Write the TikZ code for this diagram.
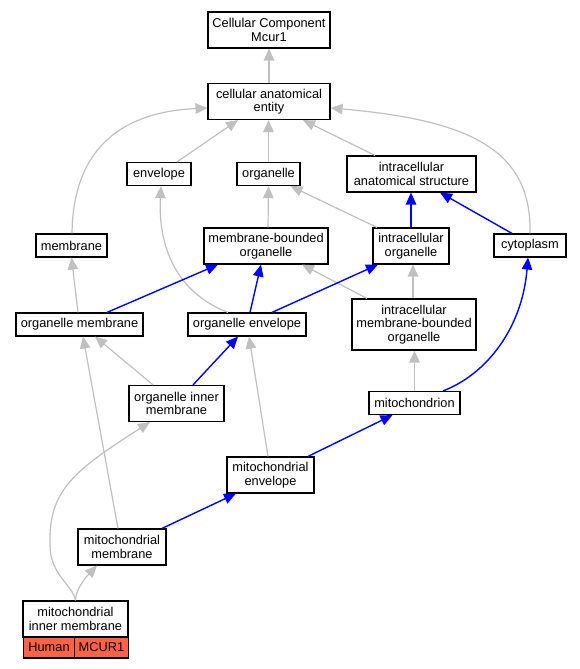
\documentclass[tikz,border=0pt]{standalone}
\usepackage{fontspec}
\setmainfont{Liberation Sans}
\usetikzlibrary{arrows.meta}
\definecolor{lgray}{RGB}{192,192,192}
\definecolor{eblue}{RGB}{0,0,255}
\definecolor{tomatored}{RGB}{255,99,71}
\tikzset{
  box/.style={draw=black, line width=1.15pt, fill=white, inner sep=0pt, align=center, font=\fontsize{12.8}{13.4}\selectfont},
  gedge/.style={draw=lgray, line width=1.2pt, -{Triangle[length=12pt,width=10.5pt]}, color=lgray},
  bedge/.style={draw=eblue, line width=1.4pt, -{Triangle[length=12pt,width=10.5pt]}, color=eblue}
}
\begin{document}
\begin{tikzpicture}[x=1pt,y=-1pt]
\useasboundingbox (0,0) rectangle (580,669);
% nodes
\node[box,minimum width=122,minimum height=36] (cc) at (269,30) {Cellular Component\\Mcur1};
\node[box,minimum width=122,minimum height=36] (cae) at (269,101.5) {cellular anatomical\\entity};
\node[box,minimum width=64,minimum height=23] (env) at (159,174) {envelope};
\node[box,minimum width=63,minimum height=23] (org) at (268.5,174) {organelle};
\node[box,minimum width=129,minimum height=36] (ias) at (411.5,174) {intracellular\\anatomical structure};
\node[box,minimum width=71,minimum height=23] (mem) at (71.5,245.5) {membrane};
\node[box,minimum width=124,minimum height=36] (mbo) at (266,246) {membrane-bounded\\organelle};
\node[box,minimum width=76,minimum height=36] (io) at (411,246) {intracellular\\organelle};
\node[box,minimum width=72,minimum height=23] (cyto) at (530,245.5) {cytoplasm};
\node[box,minimum width=127,minimum height=23] (om) at (79.5,324.5) {organelle membrane};
\node[box,minimum width=118,minimum height=23] (oe) at (247,324.5) {organelle envelope};
\node[box,minimum width=124,minimum height=51] (imbo) at (414,324.5) {intracellular\\membrane-bounded\\organelle};
\node[box,minimum width=95,minimum height=36] (oim) at (176.5,403.5) {organelle inner\\membrane};
\node[box,minimum width=91,minimum height=23] (mito) at (414.5,403) {mitochondrion};
\node[box,minimum width=87,minimum height=36] (me) at (270.5,475) {mitochondrial\\envelope};
\node[box,minimum width=88,minimum height=36] (mm) at (122,547) {mitochondrial\\membrane};
\node[box,minimum width=105,minimum height=36] (mim) at (75.5,619) {mitochondrial\\inner membrane};
\node[box,fill=tomatored,minimum width=51,minimum height=21] (human) at (49,647.5) {Human};
\node[box,fill=tomatored,minimum width=54,minimum height=21] (mcur) at (101.5,647.5) {MCUR1};
% gray edges
\draw[gedge] (cae.north) -- (cc.south);
\draw[gedge] ([xshift=18]env.north) -- ([xshift=-31]cae.south);
\draw[gedge] (org.north) -- (org.north |- cae.south);
\draw[gedge] ([xshift=-36.5]ias.north) -- ([xshift=34]cae.south);
\draw[gedge] ([xshift=0.5]mem.north) .. controls (73,150) and (120,112) .. ([yshift=-6.5]cae.west);
\draw[gedge] (cyto.north) .. controls (532,150) and (470,120) .. ([yshift=-6.5]cae.east);
\draw[gedge] ([xshift=2]mbo.north) -- (org.south);
\draw[gedge] ([xshift=-34]io.north) -- ([xshift=22]org.south);
\draw[gedge] ([xshift=-1.5]om.north) -- (mem.south);
\draw[gedge] ([xshift=-19]oe.north) .. controls (175,292) and (158,245) .. ([xshift=2]env.south);
\draw[gedge] ([xshift=-47]imbo.north) -- ([xshift=36]mbo.south);
\draw[gedge] ([xshift=-1]imbo.north) -- ([xshift=2]io.south);
\draw[gedge] ([xshift=-23.5]oim.north) -- ([xshift=15.5]om.south);
\draw[gedge] (mito.north) -- (mito.north |- imbo.south);
\draw[gedge] ([xshift=-2.5]me.north) -- ([xshift=2]oe.south);
\draw[gedge] ([xshift=-4]mm.north) -- ([xshift=3.5]om.south);
\draw[gedge] (mim.north) .. controls (75.5,590) and (85,578) .. ([xshift=-25]mm.south);
\draw[gedge] (mim.north) .. controls (73,585) and (50,575) .. (50,545) .. controls (48,490) and (75,470) .. ([xshift=-26.5]oim.south);
% blue edges
\draw[bedge] (io.north) -- (io.north |- ias.south);
\draw[bedge] ([xshift=-18]cyto.north) -- ([xshift=28.5]ias.south);
\draw[bedge] ([xshift=27.5]om.north) -- ([xshift=-48]mbo.south);
\draw[bedge] ([xshift=3]oe.north) -- ([xshift=-5]mbo.south);
\draw[bedge] ([xshift=25]oe.north) -- ([xshift=-33]io.south);
\draw[bedge] ([xshift=16.5]oim.north) -- ([xshift=-9]oe.south);
\draw[bedge] ([xshift=28.5]mito.north) .. controls (485,375) and (522,330) .. ([xshift=-2]cyto.south);
\draw[bedge] ([xshift=37.5]me.north) -- ([xshift=-22]mito.south);
\draw[bedge] ([xshift=40]mm.north) -- ([xshift=-34.5]me.south);
\end{tikzpicture}
\end{document}
